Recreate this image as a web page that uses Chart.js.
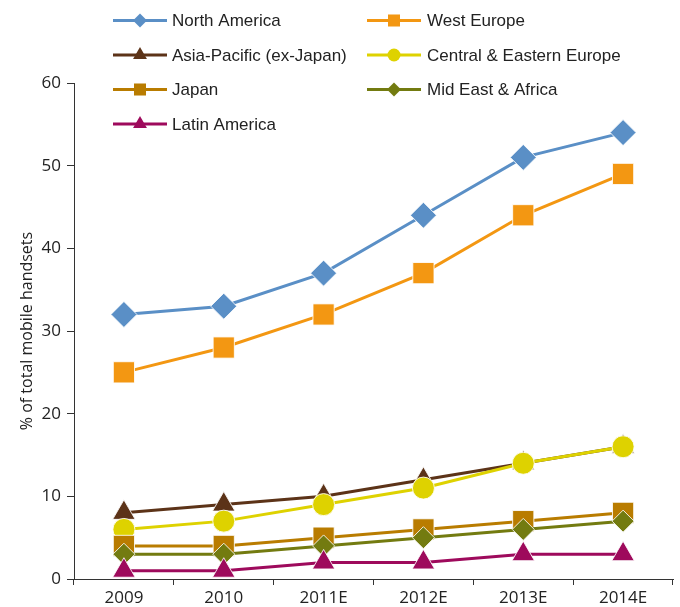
<!DOCTYPE html>
<html>
<head>
<meta charset="utf-8">
<script src="https://cdn.jsdelivr.net/npm/chart.js@4.4.1/dist/chart.umd.min.js"></script>
<style>
  html, body { margin: 0; padding: 0; background: #fff; }
  #wrap { position: relative; width: 680px; height: 607px; }
</style>
</head>
<body>
<div id="wrap"><canvas id="c" width="680" height="607"></canvas></div>
<script>
const categories = ['2009', '2010', '2011E', '2012E', '2013E', '2014E'];
const seriesNames = ['North America', 'West Europe', 'Asia-Pacific (ex-Japan)', 'Central & Eastern Europe', 'Japan', 'Mid East & Africa', 'Latin America'];
const northAmerica = [32, 33, 37, 44, 51, 54];
const westEurope = [25, 28, 32, 37, 44, 49];
const asiaPacific = [8, 9, 10, 12, 14, 16];
const centralEasternEurope = [6, 7, 9, 11, 14, 16];
const japan = [4, 4, 5, 6, 7, 8];
const midEastAfrica = [3, 3, 4, 5, 6, 7];
const latinAmerica = [1, 1, 2, 2, 3, 3];
const yTicks = [0, 10, 20, 30, 40, 50, 60];
const yTitle = '% of total mobile handsets';

const seriesValues = [northAmerica, westEurope, asiaPacific, centralEasternEurope, japan, midEastAfrica, latinAmerica];
const colors = ['#5a8fc6', '#f39712', '#5c3318', '#ded200', '#b97c00', '#737b10', '#9e0a5c'];
const shapes = ['rectRot', 'rect', 'triangle', 'circle', 'rect', 'rectRot', 'triangle'];
const radii = [13, 15, 13, 11, 15, 11, 13];
const legendRadii = [7, 8.5, 8, 6.5, 8.5, 7, 8];

const datasets = seriesValues.map((vals, i) => ({
  label: seriesNames[i],
  data: vals,
  borderColor: colors[i],
  backgroundColor: colors[i],
  pointBackgroundColor: colors[i],
  pointBorderColor: 'rgba(255,255,255,0.85)',
  pointBorderWidth: 1,
  pointStyle: shapes[i],
  pointRadius: radii[i],
  pointHoverRadius: radii[i],
  borderWidth: 3,
  tension: 0,
  order: -i
}));

function drawShape(ctx, shape, x, y, r, color) {
  ctx.save();
  ctx.fillStyle = color;
  ctx.beginPath();
  if (shape === 'rect') {
    const s = r * Math.SQRT1_2;
    ctx.rect(x - s, y - s, 2 * s, 2 * s);
  } else if (shape === 'rectRot') {
    ctx.moveTo(x, y - r); ctx.lineTo(x + r, y); ctx.lineTo(x, y + r); ctx.lineTo(x - r, y); ctx.closePath();
  } else if (shape === 'circle') {
    ctx.arc(x, y, r, 0, Math.PI * 2);
  } else if (shape === 'triangle') {
    const h = r * 1.5;
    const w = r * Math.sqrt(3) / 2;
    ctx.moveTo(x, y - h * 2 / 3); ctx.lineTo(x + w, y + h / 3); ctx.lineTo(x - w, y + h / 3); ctx.closePath();
  }
  ctx.fill();
  ctx.restore();
}

const legendPlugin = {
  id: 'customLegend',
  afterDraw(chart) {
    const ctx = chart.ctx;
    const cols = [{ x0: 113, x1: 167, tx: 172 }, { x0: 367, x1: 421, tx: 427 }];
    chart.data.datasets.forEach((ds, i) => {
      const col = cols[i % 2];
      const row = Math.floor(i / 2);
      const y = 20.5 + row * 34.5;
      ctx.save();
      ctx.strokeStyle = ds.borderColor;
      ctx.lineWidth = 3;
      ctx.beginPath();
      ctx.moveTo(col.x0, y); ctx.lineTo(col.x1, y);
      ctx.stroke();
      drawShape(ctx, ds.pointStyle, (col.x0 + col.x1) / 2, y, legendRadii[i], ds.borderColor);
      ctx.fillStyle = '#222';
      ctx.font = '17px "Liberation Sans"';
      ctx.textBaseline = 'middle';
      ctx.textAlign = 'left';
      ctx.fillText(ds.label, col.tx, y + 1);
      ctx.restore();
    });
  }
};

new Chart(document.getElementById('c'), {
  type: 'line',
  data: { labels: categories, datasets: datasets },
  options: {
    responsive: false,
    animation: false,
    events: [],
    layout: { autoPadding: false, padding: { top: 83, right: 7, left: 18, bottom: 0 } },
    plugins: { legend: { display: false }, tooltip: { enabled: false } },
    scales: {
      x: {
        offset: true,
        grid: { display: true, offset: true, drawOnChartArea: false, drawTicks: true, tickLength: 6, color: '#333', lineWidth: 1 },
        border: { display: true, color: '#333', width: 1 },
        ticks: { color: '#222', font: { family: '"Open Sans"', size: 17 }, padding: 3, maxRotation: 0 },
        afterFit(scale) { scale.height = 28; }
      },
      y: {
        min: 0, max: 60,
        afterBuildTicks(scale) { scale.ticks = yTicks.map(v => ({ value: v })); },
        grid: { display: true, drawOnChartArea: false, drawTicks: true, tickLength: 7, color: '#333', lineWidth: 1 },
        border: { display: true, color: '#333', width: 1 },
        ticks: { color: '#222', font: { family: '"Open Sans"', size: 17 }, padding: 6 },
        title: { display: true, text: yTitle, color: '#222', font: { family: '"Open Sans"', size: 16 }, padding: { top: 0, bottom: 2 } },
        afterFit(scale) { scale.width = 56; }
      }
    }
  },
  plugins: [legendPlugin]
});
</script>
</body>
</html>
